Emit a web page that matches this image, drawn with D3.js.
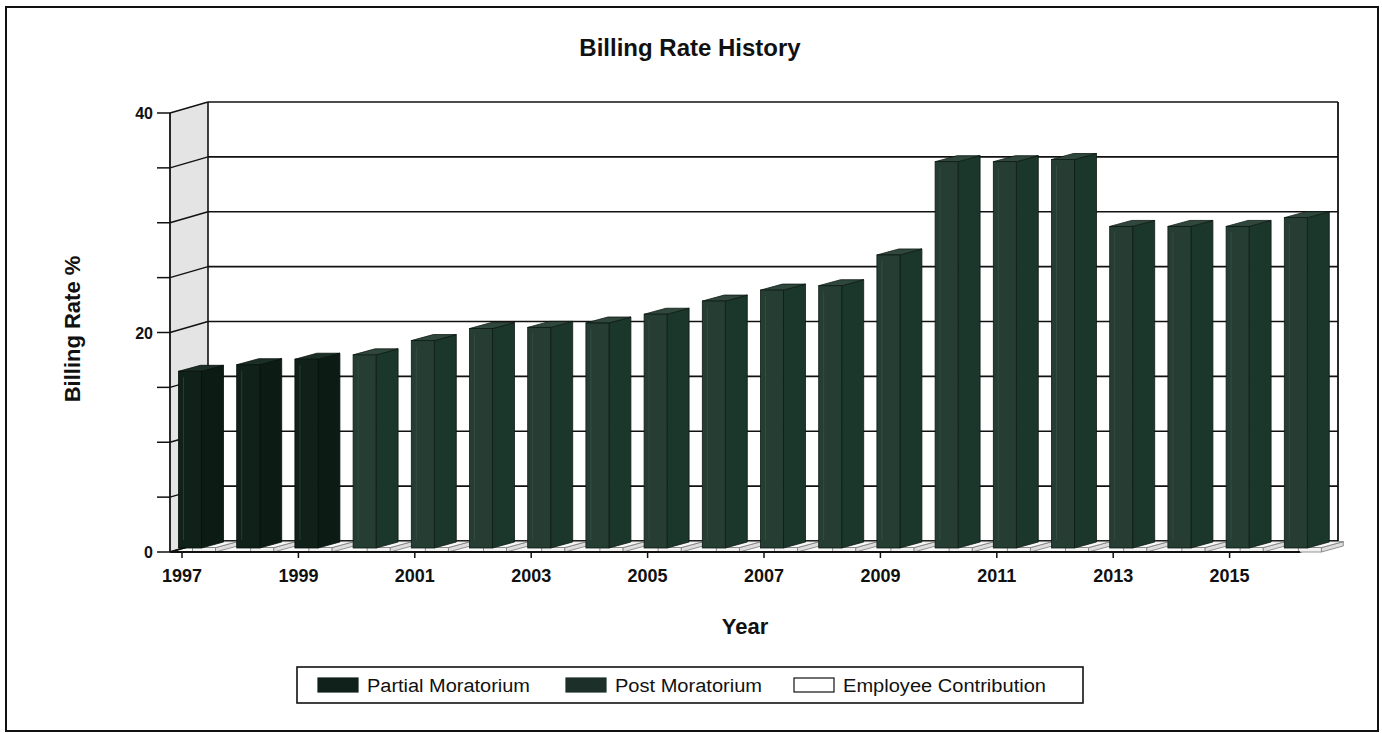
<!DOCTYPE html>
<html>
<head>
<meta charset="utf-8">
<script src="https://cdn.jsdelivr.net/npm/d3@7"></script>
<style>
  body { margin: 0; background: #fff; }
  text { font-family: "Liberation Sans", Arial, sans-serif; fill: #111; }
</style>
</head>
<body>
<div id="mychart"></div>
<script>
// values
const years = [1997, 1998, 1999, 2000, 2001, 2002, 2003, 2004, 2005, 2006,
               2007, 2008, 2009, 2010, 2011, 2012, 2013, 2014, 2015, 2016];
const partialMoratorium = [16.1, 16.7, 17.2, null, null, null, null, null, null, null,
                           null, null, null, null, null, null, null, null, null, null];
const postMoratorium = [null, null, null, 17.6, 18.9, 20.0, 20.1, 20.5, 21.3, 22.5,
                        23.5, 23.9, 26.7, 35.2, 35.2, 35.4, 29.3, 29.3, 29.3, 30.1];
const employeeContribution = [0.4, 0.4, 0.4, 0.4, 0.4, 0.4, 0.4, 0.4, 0.4, 0.4,
                              0.4, 0.4, 0.4, 0.4, 0.4, 0.4, 0.4, 0.4, 0.4, 0.4];
const yTicks = [0, 5, 10, 15, 20, 25, 30, 35, 40];
const yTickLabels = ["0", "20", "40"];
const xTickLabels = [1997, 1999, 2001, 2003, 2005, 2007, 2009, 2011, 2013, 2015];
const seriesNames = ["Partial Moratorium", "Post Moratorium", "Employee Contribution"];

const width = 1382, height = 733;
const depthX = 38, depthY = -11;      // wall depth offset
const barDX = 22, barDY = -6;         // bar depth offset
const barW = 23;

const svg = d3.select("#mychart").append("svg")
    .attr("width", width).attr("height", height);

// front plane scale, back wall scale, bar plane scale
const yFront = d3.scaleLinear().domain([0, 40]).range([552, 113]);
const yBack = v => yFront(v) + depthY;
const yBar = d3.scaleLinear().domain([0, 40]).range([548, 109]);
const x = d3.scaleLinear().domain([1997, 2016]).range([182, 1287.8]);

const frontL = 170, backL = frontL + depthX, backR = 1338, frontR = backR - depthX;

// outer frame
svg.append("rect").attr("x", 6).attr("y", 7).attr("width", 1372).attr("height", 724)
    .attr("fill", "none").attr("stroke", "#111").attr("stroke-width", 2);

// title
svg.append("text").attr("x", 690).attr("y", 56).attr("text-anchor", "middle")
    .style("font-size", "24px").style("font-weight", "bold").text("Billing Rate History");

// side wall
svg.append("path")
    .attr("d", `M${frontL},${yFront(0)}L${frontL},${yFront(40)}L${backL},${yBack(40)}L${backL},${yBack(0)}Z`)
    .attr("fill", "#e4e4e4");

// floor
svg.append("path")
    .attr("d", `M${frontL},${yFront(0)}L${frontR},${yFront(0)}L${backR},${yBack(0)}L${backL},${yBack(0)}Z`)
    .attr("fill", "#fafafa").attr("stroke", "#111").attr("stroke-width", 1.5);

// back wall grid + side wall slants
svg.selectAll(".grid").data(yTicks).enter().append("line")
    .attr("x1", backL).attr("x2", backR)
    .attr("y1", d => yBack(d)).attr("y2", d => yBack(d))
    .attr("stroke", "#111").attr("stroke-width", 1.6);
svg.selectAll(".slant").data(yTicks).enter().append("line")
    .attr("x1", frontL).attr("x2", backL)
    .attr("y1", d => yFront(d)).attr("y2", d => yBack(d))
    .attr("stroke", "#111").attr("stroke-width", 1.4);
svg.append("line").attr("x1", backL).attr("x2", backL)
    .attr("y1", yBack(40)).attr("y2", yBack(0)).attr("stroke", "#111").attr("stroke-width", 1.6);
svg.append("line").attr("x1", backR).attr("x2", backR)
    .attr("y1", yBack(40)).attr("y2", yBack(0)).attr("stroke", "#111").attr("stroke-width", 1.8);

// 3d box helper
function box(g, x0, y0, y1, fill) {
    g.append("path")
        .attr("d", `M${x0 + barW},${y0}L${x0 + barW + barDX},${y0 + barDY}L${x0 + barW + barDX},${y1 + barDY}L${x0 + barW},${y1}Z`)
        .attr("fill", fill.side).attr("stroke", fill.stroke).attr("stroke-width", 0.8);
    g.append("path")
        .attr("d", `M${x0},${y1}L${x0 + barW},${y1}L${x0 + barW + barDX},${y1 + barDY}L${x0 + barDX},${y1 + barDY}Z`)
        .attr("fill", fill.top).attr("stroke", fill.stroke).attr("stroke-width", 0.8);
    g.append("rect").attr("x", x0).attr("y", y1).attr("width", barW).attr("height", y0 - y1)
        .attr("fill", fill.front).attr("stroke", fill.stroke).attr("stroke-width", 0.8);
}

const colEmp = { front: "#f2f2f2", side: "#dcdcdc", top: "#f8f8f8", stroke: "#7a7a7a" };
const colPartial = { front: "#10211a", side: "#0c1c15", top: "#1c2f27", stroke: "#06100b" };
const colPost = { front: "#263d34", side: "#1b362a", top: "#30473d", stroke: "#0c1a13" };

const bars = svg.append("g");
years.forEach((yr, i) => {
    const x0 = x(yr) - 3.5;
    // employee contribution: thin box at the floor beside the bar
    box(bars, x0 + 14, yFront(0), yFront(employeeContribution[i]), colEmp);
});
years.forEach((yr, i) => {
    const x0 = x(yr) - 3.5;
    const v = partialMoratorium[i] != null ? partialMoratorium[i] : postMoratorium[i];
    const c = partialMoratorium[i] != null ? colPartial : colPost;
    box(bars, x0, yBar(0), yBar(v), c);
    bars.append("line").attr("x1", x0 + 5).attr("x2", x0 + 5)
        .attr("y1", yBar(v) + 6).attr("y2", yBar(0) - 8)
        .attr("stroke", "#4d5f57").attr("stroke-width", 0.7).attr("opacity", 0.6);
});

// front axis
svg.append("line").attr("x1", frontL).attr("x2", frontL)
    .attr("y1", yFront(40)).attr("y2", yFront(0)).attr("stroke", "#111").attr("stroke-width", 1.8);
svg.selectAll(".ytick").data(yTicks).enter().append("line")
    .attr("x1", 157).attr("x2", frontL)
    .attr("y1", d => yFront(d)).attr("y2", d => yFront(d))
    .attr("stroke", "#111").attr("stroke-width", 1.5);
svg.selectAll(".ylab").data(yTickLabels).enter().append("text")
    .attr("x", 153).attr("y", d => yFront(+d) + 6).attr("text-anchor", "end")
    .style("font-size", "16px").style("font-weight", "bold").text(d => d);
svg.append("line").attr("x1", frontL).attr("x2", frontR)
    .attr("y1", yFront(0)).attr("y2", yFront(0)).attr("stroke", "#111").attr("stroke-width", 1.8);

// x ticks and labels
svg.selectAll(".xtick").data(xTickLabels).enter().append("line")
    .attr("x1", d => x(d)).attr("x2", d => x(d))
    .attr("y1", yFront(0)).attr("y2", yFront(0) + 6)
    .attr("stroke", "#111").attr("stroke-width", 1.5);
svg.selectAll(".xlab").data(xTickLabels).enter().append("text")
    .attr("x", d => x(d)).attr("y", 582).attr("text-anchor", "middle")
    .style("font-size", "18px").style("font-weight", "bold").text(d => d);

// axis titles
svg.append("text").attr("x", 745).attr("y", 634).attr("text-anchor", "middle")
    .style("font-size", "22px").style("font-weight", "bold").text("Year");
svg.append("text").attr("transform", "translate(80,329) rotate(-90)").attr("text-anchor", "middle")
    .style("font-size", "22px").style("font-weight", "bold").text("Billing Rate %");

// legend
const legend = svg.append("g");
legend.append("rect").attr("x", 297).attr("y", 667).attr("width", 786).attr("height", 36)
    .attr("fill", "#fff").attr("stroke", "#111").attr("stroke-width", 1.6);
const legendItems = [
    { name: seriesNames[0], sx: 318, tx: 367, tw: 163, fill: "#10201a", stroke: "#10201a" },
    { name: seriesNames[1], sx: 566, tx: 615, tw: 147, fill: "#1c2f28", stroke: "#1c2f28" },
    { name: seriesNames[2], sx: 794, tx: 843, tw: 203, fill: "#fff", stroke: "#111" }
];
legendItems.forEach(d => {
    legend.append("rect").attr("x", d.sx).attr("y", 678).attr("width", 40).attr("height", 14)
        .attr("fill", d.fill).attr("stroke", d.stroke).attr("stroke-width", 1.2);
    legend.append("text").attr("x", d.tx).attr("y", 692)
        .attr("textLength", d.tw).attr("lengthAdjust", "spacingAndGlyphs")
        .style("font-size", "18px").text(d.name);
});
</script>
</body>
</html>
